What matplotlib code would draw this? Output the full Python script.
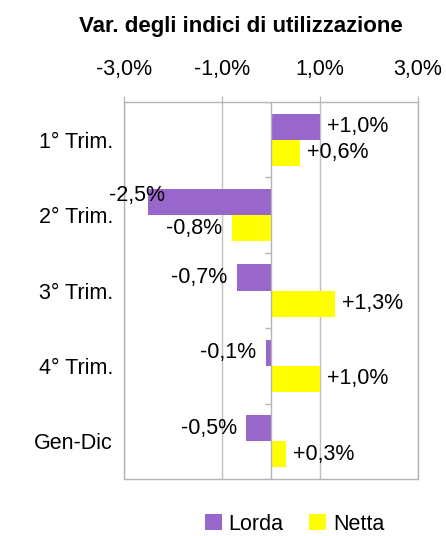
import matplotlib.pyplot as plt
import numpy as np

categories = ['1° Trim.', '2° Trim.', '3° Trim.', '4° Trim.', 'Gen-Dic']
lorda = [1.0, -2.5, -0.7, -0.1, -0.5]
netta = [0.6, -0.8, 1.3, 1.0, 0.3]
xticks = [-3, -1, 1, 3]

plt.rcParams['font.family'] = ['Liberation Sans', 'DejaVu Sans']
FS = 15.5

fig = plt.figure(figsize=(4.46, 5.36), dpi=100)
ax = fig.add_axes([0.278, 0.106, 0.659, 0.704])

y = np.arange(len(categories))
h = 0.345
ax.barh(y - h / 2, lorda, height=h, color='#9966CC', label='Lorda')
ax.barh(y + h / 2, netta, height=h, color='#FFFF00', label='Netta')

def fmt(v):
    s = ('+' if v > 0 else '') + '%.1f%%' % v
    return s.replace('.', ',')

for i, (a, b) in enumerate(zip(lorda, netta)):
    for v, yy in ((a, i - h / 2), (b, i + h / 2)):
        if v < -2:
            # label does not fit: pushed up over the bar like the original
            ax.annotate(fmt(v), (v, yy), xytext=(12, 5), textcoords='offset points',
                        ha='right', va='center', fontsize=FS)
        elif v >= 0:
            ax.annotate(fmt(v), (v, yy), xytext=(5, 0), textcoords='offset points',
                        ha='left', va='center', fontsize=FS)
        else:
            ax.annotate(fmt(v), (v, yy), xytext=(-7, 0), textcoords='offset points',
                        ha='right', va='center', fontsize=FS)

ax.set_xlim(-3, 3)
ax.set_ylim(len(categories) - 0.5, -0.5)
ax.xaxis.tick_top()
ax.set_xticks(xticks)
ax.set_xticklabels([('%.1f%%' % t).replace('.', ',') for t in xticks], fontsize=FS)
ax.tick_params(axis='x', length=4, color='#b4b4b4', pad=12)
ax.set_yticks(y)
ax.set_yticklabels(categories, fontsize=FS)
ax.tick_params(axis='y', length=0, pad=8)
ax.grid(axis='x', color='#c0c0c0', linewidth=1)
ax.set_axisbelow(True)
for s in ax.spines.values():
    s.set_color('#b4b4b4')
    s.set_linewidth(1)

# zero axis with small category tick marks
ax.axvline(0, color='#b4b4b4', linewidth=1, zorder=1)
ax.hlines(np.arange(len(categories) + 1) - 0.5, -0.12, 0, color='#b4b4b4', linewidth=1)

fig.text(0.54, 0.951, 'Var. degli indici di utilizzazione', ha='center', va='center',
         fontsize=16, fontweight='bold')

fig.legend(loc='center', bbox_to_anchor=(0.66, 0.022), ncol=2, frameon=False,
           fontsize=FS, handlelength=0.8, handleheight=0.8, handletextpad=0.3,
           columnspacing=1.2)

fig.savefig('out.png', dpi=100)
